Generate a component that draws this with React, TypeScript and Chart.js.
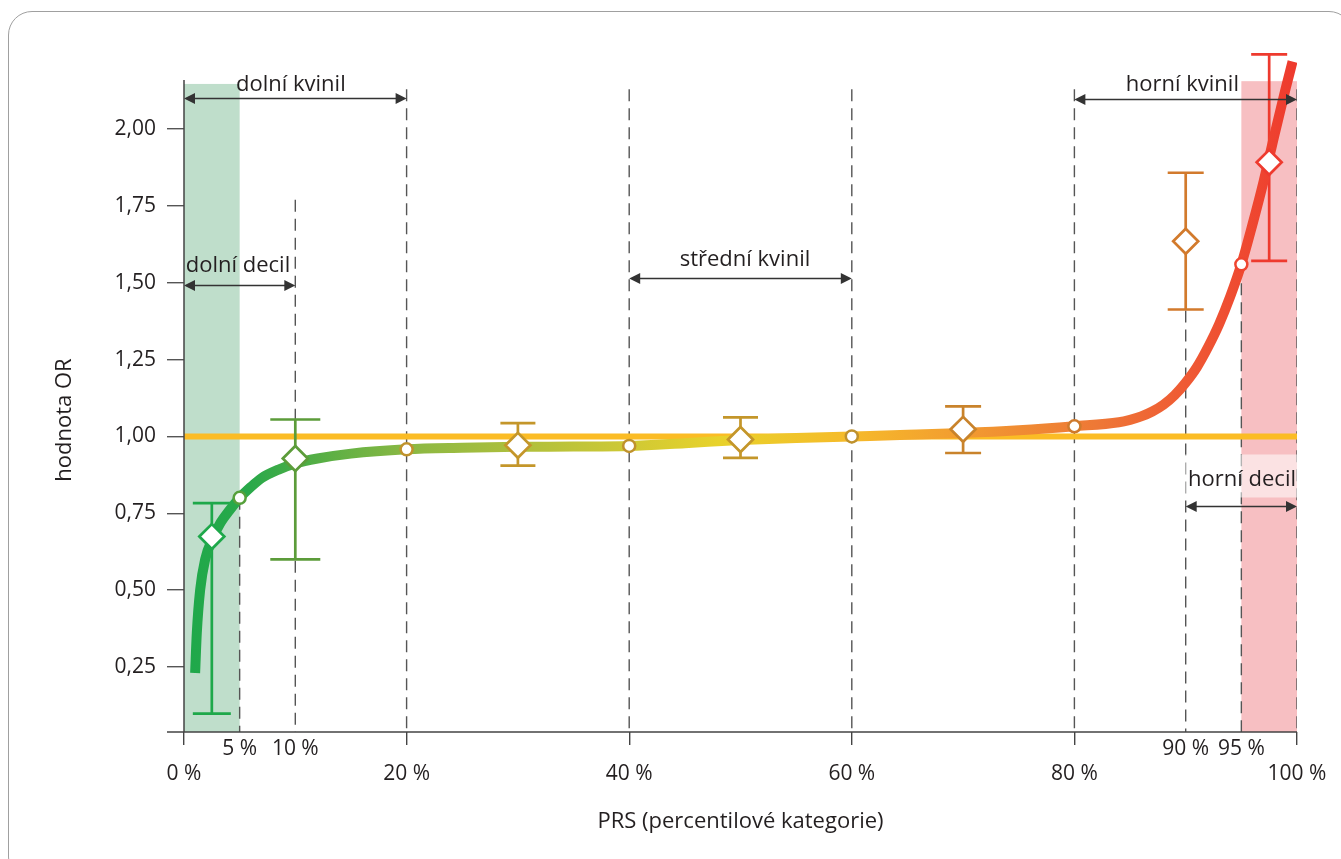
import React, { useEffect, useRef } from 'react';
import { Chart, registerables } from 'chart.js';
Chart.register(...registerables);

// ---------- data ----------
const yMin = 0.038;
const yMax = 2.29;
const yAxisTop = 2.16;
const yTickValues = [0.25, 0.5, 0.75, 1.0, 1.25, 1.5, 1.75, 2.0];
const yTickLabels = ['0,25', '0,50', '0,75', '1,00', '1,25', '1,50', '1,75', '2,00'];

const xTickValues = [0, 5, 10, 20, 40, 60, 80, 90, 95, 100];
const xTickLabels = ['0 %', '5 %', '10 %', '20 %', '40 %', '60 %', '80 %', '90 %', '95 %', '100 %'];
const xTickUpperRow = [5, 10, 90, 95];
const xTickMarked = [0, 20, 40, 60, 80, 100];

const yTitle = 'hodnota OR';
const xTitle = 'PRS (percentilové kategorie)';

const referenceY = 1.0;

const curveX = [1.0, 1.15, 1.45, 1.9, 2.6, 3.3, 4.1, 5, 6, 7, 8.5, 10, 12, 15, 20, 25, 30, 35, 40, 45, 50, 55, 60, 65, 70, 75, 80, 84, 85, 86, 87, 88, 89, 90, 91, 92, 93, 94, 95, 96, 97, 98, 99, 99.6];
const curveY = [0.23, 0.36, 0.5, 0.6, 0.67, 0.72, 0.76, 0.8, 0.835, 0.865, 0.892, 0.912, 0.928, 0.944, 0.958, 0.963, 0.966, 0.967, 0.969, 0.978, 0.988, 0.995, 1.0, 1.005, 1.011, 1.02, 1.033, 1.046, 1.054, 1.065, 1.081, 1.103, 1.134, 1.175, 1.225, 1.29, 1.365, 1.455, 1.56, 1.69, 1.83, 1.985, 2.135, 2.22];

const circleX = [5, 20, 40, 60, 80, 95];
const circleY = [0.8, 0.958, 0.969, 1.0, 1.033, 1.56];

const diamondX = [2.5, 10, 30, 50, 70, 90, 97.5];
const diamondY = [0.674, 0.928, 0.971, 0.99, 1.023, 1.635, 1.892];
const errLow = [0.098, 0.6, 0.905, 0.93, 0.946, 1.413, 1.571];
const errHigh = [0.783, 1.055, 1.043, 1.062, 1.098, 1.858, 2.243];

const dashX = [5, 10, 20, 40, 60, 80, 90, 95, 100];
const dashTop = [0.8, 1.77, 2.13, 2.13, 2.13, 2.13, 1.41, 1.56, 2.13];

const bandFrom = [0, 95];
const bandTo = [5, 100];
const bandTop = [2.147, 2.156];

const spanLabels = ['dolní kvinil', 'dolní decil', 'střední kvinil', 'horní kvinil', 'horní decil'];
const spanFrom = [0, 0, 40, 80, 90];
const spanTo = [20, 10, 60, 100, 100];
const spanY = [2.1, 1.494, 1.517, 2.098, 0.772];
const labelX = [9.6, 4.85, 50.4, 89.7, 95.06];
const labelY = [2.125, 1.535, 1.555, 2.124, 0.837];

// ---------- styles ----------
const FONT = '"Open Sans", "Noto Sans", sans-serif';
const TICK_SIZE = 21;
const TEXT_SIZE = 22;
const TEXT = '#231f20';
const bandColors = ['#bfdecb', '#f7bfc2'];
const circleColors = ['#56a03b', '#c0922c', '#c0922c', '#c0922c', '#cf7a2c', '#ef4530'];
const diamondColors = ['#1ea84a', '#5c9c3a', '#c4962a', '#c4962a', '#c9832b', '#d27a2c', '#ee3a2e'];
const capWidths = [38, 50, 35, 35, 36, 36, 36];
const labelBg = [false, false, false, false, true];
const gradStops = [0, 0.06, 0.12, 0.2, 0.3, 0.4, 0.48, 0.6, 0.75, 0.82, 0.9, 1.0];
const gradColors = ['#1ea84a', '#2aa94a', '#55ae45', '#8ab843', '#aebf3d', '#cfc935', '#e8d22b', '#f6ba2a', '#f08c33', '#ee7836', '#ef5a34', '#ee3a2e'];

const overlayPlugin = {
  id: 'overlay',
  beforeDatasetsDraw(chart: any) {
    const { ctx, scales } = chart;
    const x = scales.x, y = scales.y;
    ctx.save();
    for (let i = 0; i < bandFrom.length; i++) {
      const x0 = x.getPixelForValue(bandFrom[i]);
      const x1 = x.getPixelForValue(bandTo[i]);
      const y0 = y.getPixelForValue(bandTop[i]);
      const y1 = y.getPixelForValue(yMin);
      ctx.fillStyle = bandColors[i];
      ctx.fillRect(x0, y0, x1 - x0, y1 - y0);
    }
    ctx.restore();
  },
  beforeDatasetDraw(chart: any, args: any) {
    if (args.meta.label !== 'curve') return;
    const { ctx, scales } = chart;
    const x = scales.x, y = scales.y;
    ctx.save();
    ctx.lineWidth = 2.7;
    ctx.lineCap = 'butt';
    for (let i = 0; i < diamondX.length; i++) {
      const px = x.getPixelForValue(diamondX[i]);
      const pl = y.getPixelForValue(errLow[i]);
      const ph = y.getPixelForValue(errHigh[i]);
      const hw = capWidths[i] / 2;
      ctx.strokeStyle = diamondColors[i];
      ctx.beginPath();
      ctx.moveTo(px, pl);
      ctx.lineTo(px, ph);
      ctx.moveTo(px - hw, pl);
      ctx.lineTo(px + hw, pl);
      ctx.moveTo(px - hw, ph);
      ctx.lineTo(px + hw, ph);
      ctx.stroke();
    }
    ctx.restore();
  },
  afterDatasetsDraw(chart: any) {
    const { ctx, scales } = chart;
    const x = scales.x, y = scales.y;
    ctx.save();
    ctx.font = `${TEXT_SIZE}px ${FONT}`;
    // label backgrounds
    for (let i = 0; i < spanLabels.length; i++) {
      if (!labelBg[i]) continue;
      const w = ctx.measureText(spanLabels[i]).width;
      const cx = x.getPixelForValue(labelX[i]);
      const by = y.getPixelForValue(labelY[i]);
      const right = x.getPixelForValue(100);
      ctx.fillStyle = 'rgba(255,255,255,0.55)';
      ctx.fillRect(cx - w / 2 - 3, by - 32, right - (cx - w / 2 - 3), 43);
    }
    // arrows
    ctx.strokeStyle = '#333';
    ctx.fillStyle = '#333';
    ctx.lineWidth = 1.3;
    for (let i = 0; i < spanLabels.length; i++) {
      const x0 = x.getPixelForValue(spanFrom[i]);
      const x1 = x.getPixelForValue(spanTo[i]);
      const py = Math.round(y.getPixelForValue(spanY[i])) + 0.5;
      const hl = 11, hh = 5.5;
      ctx.beginPath();
      ctx.moveTo(x0 + hl - 1, py);
      ctx.lineTo(x1 - hl + 1, py);
      ctx.stroke();
      ctx.beginPath();
      ctx.moveTo(x0, py);
      ctx.lineTo(x0 + hl, py - hh);
      ctx.lineTo(x0 + hl, py + hh);
      ctx.closePath();
      ctx.fill();
      ctx.beginPath();
      ctx.moveTo(x1, py);
      ctx.lineTo(x1 - hl, py - hh);
      ctx.lineTo(x1 - hl, py + hh);
      ctx.closePath();
      ctx.fill();
    }
    // labels
    ctx.fillStyle = TEXT;
    ctx.textAlign = 'center';
    ctx.textBaseline = 'alphabetic';
    for (let i = 0; i < spanLabels.length; i++) {
      ctx.fillText(spanLabels[i], x.getPixelForValue(labelX[i]), y.getPixelForValue(labelY[i]));
    }
    // axis lines
    ctx.strokeStyle = '#444';
    ctx.lineWidth = 1.5;
    const ax = x.getPixelForValue(0);
    const ay = y.getPixelForValue(yMin);
    ctx.beginPath();
    ctx.moveTo(ax, y.getPixelForValue(yAxisTop));
    ctx.lineTo(ax, ay);
    ctx.moveTo(ax - 17, ay);
    ctx.lineTo(x.getPixelForValue(100), ay);
    ctx.stroke();
    // y title
    ctx.save();
    ctx.translate(65, 420);
    ctx.rotate(-Math.PI / 2);
    ctx.textAlign = 'center';
    ctx.textBaseline = 'middle';
    ctx.fillStyle = TEXT;
    ctx.fillText(yTitle, 0, 0);
    ctx.restore();
    ctx.restore();
  },
};

export default function App() {
  const ref = useRef<HTMLCanvasElement | null>(null);

  useEffect(() => {
    if (!ref.current) return;

    const dashedSets = dashX.map((dx, i) => ({
      label: 'dash' + i,
      data: [
        { x: dx, y: dashTop[i] },
        { x: dx, y: yMin },
      ],
      borderColor: '#555',
      borderWidth: 1.4,
      borderDash: [12, 7],
      pointRadius: 0,
      fill: false,
      order: 10,
    }));

    const chart = new Chart(ref.current, {
      type: 'line',
      data: {
        datasets: [
          ...dashedSets,
          {
            label: 'reference',
            data: [
              { x: 0, y: referenceY },
              { x: 100, y: referenceY },
            ],
            borderColor: '#fbbc25',
            borderWidth: 6,
            pointRadius: 0,
            fill: false,
            order: 8,
          },
          {
            label: 'curve',
            data: curveX.map((cx, i) => ({ x: cx, y: curveY[i] })),
            borderColor: (c: any) => {
              const ch = c.chart;
              if (!ch.chartArea) return gradColors[0];
              const g = ch.ctx.createLinearGradient(ch.scales.x.getPixelForValue(0), 0, ch.scales.x.getPixelForValue(100), 0);
              gradStops.forEach((s, i) => g.addColorStop(s, gradColors[i]));
              return g;
            },
            borderWidth: 10,
            borderCapStyle: 'butt',
            borderJoinStyle: 'round',
            cubicInterpolationMode: 'monotone',
            pointRadius: 0,
            fill: false,
            order: 6,
          },
          {
            label: 'circles',
            data: circleX.map((cx, i) => ({ x: cx, y: circleY[i] })),
            showLine: false,
            pointRadius: 6,
            pointBorderWidth: 2.5,
            pointBackgroundColor: '#ffffff',
            pointBorderColor: circleColors,
            order: 4,
          },
          {
            label: 'diamonds',
            data: diamondX.map((dx, i) => ({ x: dx, y: diamondY[i] })),
            showLine: false,
            pointStyle: 'rectRot',
            pointRadius: 12.5,
            pointBorderWidth: 2.7,
            pointBackgroundColor: '#ffffff',
            pointBorderColor: diamondColors,
            order: 2,
          },
        ] as any,
      },
      options: {
        responsive: false,
        animation: false,
        events: [],
        layout: { padding: { left: 48, right: 44, top: 40, bottom: 20 } },
        plugins: { legend: { display: false }, tooltip: { enabled: false } },
        scales: {
          x: {
            type: 'linear',
            min: 0,
            max: 100,
            afterBuildTicks: (s: any) => {
              s.ticks = xTickValues.map((v) => ({ value: v }));
            },
            afterFit: (s: any) => {
              s.height = 107;
              s.paddingLeft = 0;
              s.paddingRight = 0;
            },
            ticks: {
              autoSkip: false,
              maxRotation: 0,
              minRotation: 0,
              padding: -9,
              color: TEXT,
              font: { family: FONT, size: TICK_SIZE },
              callback: (v: any) => {
                const i = xTickValues.indexOf(Number(v));
                const lbl = i >= 0 ? xTickLabels[i] : '';
                return xTickUpperRow.includes(Number(v)) ? [lbl] : ['', lbl];
              },
            },
            grid: {
              drawOnChartArea: false,
              tickLength: 13,
              lineWidth: 1.4,
              tickColor: (c: any) => (c.tick && xTickMarked.includes(c.tick.value) ? '#444' : 'rgba(0,0,0,0)'),
            },
            border: { display: false },
            title: {
              display: true,
              text: xTitle,
              color: TEXT,
              font: { family: FONT, size: TEXT_SIZE },
              padding: { top: 0, bottom: 4 },
            },
          },
          y: {
            type: 'linear',
            min: yMin,
            max: yMax,
            afterBuildTicks: (s: any) => {
              s.ticks = yTickValues.map((v) => ({ value: v }));
            },
            afterFit: (s: any) => {
              s.width = 136;
              s.paddingTop = 0;
              s.paddingBottom = 0;
            },
            ticks: {
              padding: 11,
              color: TEXT,
              font: { family: FONT, size: TICK_SIZE },
              callback: (v: any) => {
                const i = yTickValues.findIndex((t) => Math.abs(t - Number(v)) < 1e-6);
                return i >= 0 ? yTickLabels[i] : '';
              },
            },
            grid: {
              drawOnChartArea: false,
              tickLength: 17,
              lineWidth: 1.4,
              tickColor: '#555',
            },
            border: { display: false },
          },
        },
      } as any,
      plugins: [overlayPlugin],
    });

    return () => chart.destroy();
  }, []);

  return (
    <div style={{ position: 'fixed', left: 0, top: 0, width: 1341, height: 859, overflow: 'hidden', background: '#ffffff' }}>
      <div
        style={{
          position: 'absolute',
          left: 8,
          top: 11,
          width: 1345,
          height: 870,
          border: '1.5px solid #a0a0a0',
          borderRadius: 24,
          boxSizing: 'border-box',
        }}
      />
      <canvas ref={ref} width={1341} height={859} style={{ position: 'absolute', left: 0, top: 0, width: 1341, height: 859 }} />
    </div>
  );
}
